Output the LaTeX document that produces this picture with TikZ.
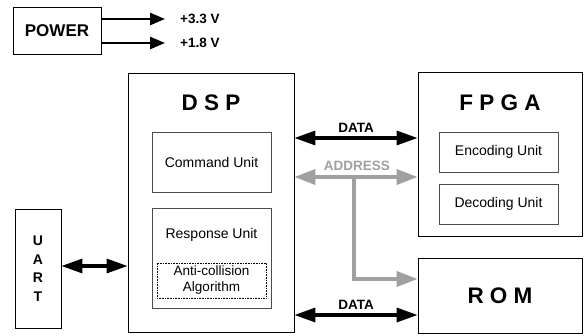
\documentclass[tikz,border=0pt]{standalone}
\usepackage{fontspec}
\setmainfont{Liberation Sans}
\usetikzlibrary{positioning,arrows.meta}

\definecolor{busgray}{HTML}{A0A0A0}

\begin{document}
\begin{tikzpicture}[x=1pt,y=-1pt,
% Block style
		block/.style={rectangle
							    , draw=black, line width=0.8pt
							    , fill=white
							    , inner sep=0pt},
		unit/.style={rectangle
							    , draw=black!70, line width=0.6pt
							    , inner sep=0pt
							    , font=\fontsize{14}{15}\selectfont},
		algo/.style={rectangle
							    , draw=black, densely dotted, line width=0.6pt
							    , inner sep=0pt
							    , align=center
							    , font=\fontsize{13.5}{16}\selectfont},
		title/.style={font=\bfseries\fontsize{22.5}{24}\selectfont},
		label/.style={font=\bfseries\fontsize{13.5}{15}\selectfont
%							    , fill=white
							    , inner sep=1pt},
% Bus and supply arrows
		bus/.style={line width=3.2pt
			       			, {Triangle[length=21pt,width=14pt]}-{Triangle[length=21pt,width=14pt]}},
		addr/.style={line width=3.6pt, draw=busgray
			       			, -{Triangle[length=21pt,width=15pt]}},
		supply/.style={line width=2.6pt
			       			, -{Triangle[length=15pt,width=12pt]}}
	]
	\useasboundingbox (0,0) rectangle (584,336);
%% Draw blocks
	\node [block, minimum width=88pt, minimum height=47pt] (power) at (57,31)
		{\bfseries\fontsize{17}{18}\selectfont POWER};
	\node [block, minimum width=166pt, minimum height=259pt] (dsp) at (211,202.5) {};
	\node [block, minimum width=164pt, minimum height=164pt] (fpga) at (500,154) {};
	\node [block, minimum width=164pt, minimum height=75pt] (rom) at (500,295.5)
		{\bfseries\fontsize{22.5}{24}\selectfont R O M};
	\node [block, minimum width=46pt, minimum height=119pt, align=center
		, font=\bfseries\fontsize{14}{18.5}\selectfont] (uart) at (38,268.5)
		{U\\A\\R\\T};
%% Titles and inner units
	\node [title] (dsptitle) at (211,103) {D S P};
	\node [title] (fpgatitle) at (500,103) {F P G A};
	\node [unit, minimum width=119pt, minimum height=60pt] (cmd) at (211.5,162) {Command Unit};
	\node [unit, minimum width=119pt, minimum height=100pt] (resp) at (211.5,258) {};
	\node [font=\fontsize{14}{15}\selectfont] (resptitle) at (211.5,235) {Response Unit};
	\node [algo, minimum width=109pt, minimum height=35pt] (anti) at (211.5,280.5)
		{Anti-collision\\Algorithm};
	\node [unit, minimum width=119pt, minimum height=40pt] (enc) at (498.5,152) {Encoding Unit};
	\node [unit, minimum width=119pt, minimum height=40pt] (dec) at (498.5,204) {Decoding Unit};
%% Supply outputs
	\coordinate (v33) at (165,19);
	\coordinate (v18) at (165,43);
	\draw [supply] (power.east |- v33) -- (v33);
	\draw [supply] (power.east |- v18) -- (v18);
	\node [label, anchor=west] (v33lbl) [right=14pt of v33] {+3.3 V};
	\node [label, anchor=west] (v18lbl) [right=14pt of v18] {+1.8 V};
%% Buses
	\coordinate (ytop) at (0,138);
	\coordinate (yaddr) at (0,177);
	\coordinate (ybot) at (0,315);
	\coordinate (yuart) at (0,266);
	\coordinate (tap) at (354,177);
	\coordinate (yrom) at (0,279);
	\draw [bus] (dsp.east |- ytop) -- node [label, above=3pt] (data1) {DATA} (fpga.west |- ytop);
	\draw [addr, {Triangle[length=21pt,width=15pt]}-{Triangle[length=21pt,width=15pt]}]
		(dsp.east |- yaddr) -- (fpga.west |- yaddr);
	\node [label, text=busgray] (addrlbl) at (357,166) {ADDRESS};
	\draw [addr] (tap) |- (rom.west |- yrom);
	\draw [bus] (dsp.east |- ybot) -- node [label, above=3pt] (data2) {DATA} (rom.west |- ybot);
	\draw [bus] (uart.east |- yuart) -- (dsp.west |- yuart);
\end{tikzpicture}
\end{document}
